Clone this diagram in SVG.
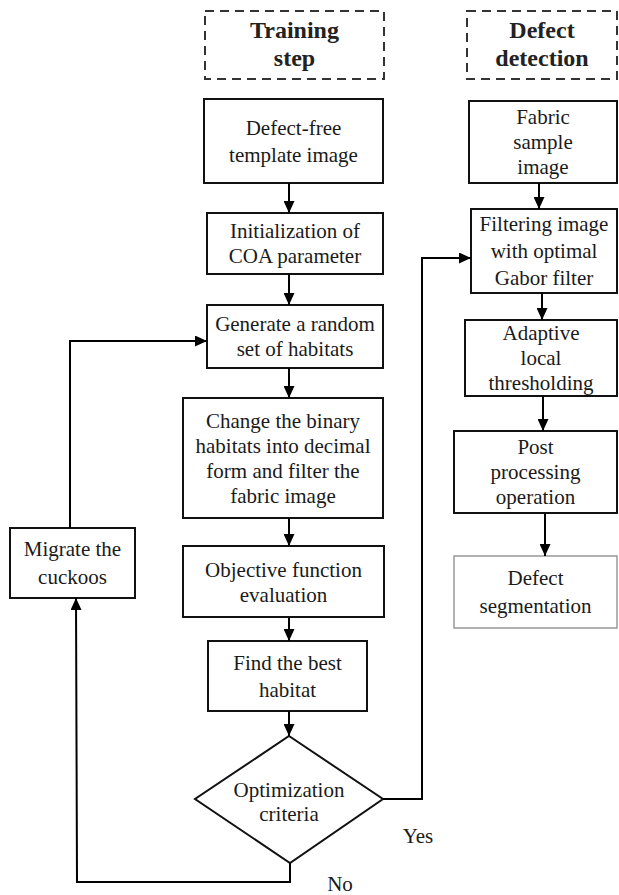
<svg xmlns="http://www.w3.org/2000/svg" width="619" height="895" viewBox="0 0 619 895">
<defs>
<marker id="ah" markerUnits="userSpaceOnUse" markerWidth="12" markerHeight="11" refX="12" refY="5.5" orient="auto">
<path d="M0,0 L12,5.5 L0,11 z" fill="#000"/>
</marker>
<style>
.box{fill:#fff;stroke:#111;stroke-width:2}
.lite{fill:#fff;stroke:#999;stroke-width:1.5}
.hdr{fill:none;stroke:#333;stroke-width:2;stroke-dasharray:9 6}
.t{font-family:"Liberation Serif","Times New Roman",serif;font-size:21px;fill:#1a1a1a;text-anchor:middle}
.h{font-family:"Liberation Serif","Times New Roman",serif;font-size:24px;font-weight:bold;fill:#222;text-anchor:middle}
.c{fill:none;stroke:#000;stroke-width:2}
</style>
</defs>
<rect width="619" height="895" fill="#fff"/>

<g id="hdr-training">
<rect class="hdr" x="205" y="11" width="179" height="68"/>
<text class="h" x="294.5" y="38">Training</text>
<text class="h" x="294.5" y="66">step</text>
</g>
<g id="hdr-defect">
<rect class="hdr" x="467" y="11" width="150" height="68"/>
<text class="h" x="542" y="38">Defect</text>
<text class="h" x="542" y="66">detection</text>
</g>

<g id="n-template">
<rect class="box" x="204" y="99" width="179" height="84"/>
<text class="t" x="293.5" y="135">Defect-free</text>
<text class="t" x="293.5" y="162">template image</text>
</g>
<g id="n-init">
<rect class="box" x="207" y="213" width="176" height="61"/>
<text class="t" x="295" y="238">Initialization of</text>
<text class="t" x="295" y="263">COA parameter</text>
</g>
<g id="n-generate">
<rect class="box" x="207" y="305" width="176" height="63"/>
<text class="t" x="295" y="331">Generate a random</text>
<text class="t" x="295" y="356">set of habitats</text>
</g>
<g id="n-change">
<rect class="box" x="183" y="398" width="200" height="120"/>
<text class="t" x="283" y="428">Change the binary</text>
<text class="t" x="283" y="453">habitats into decimal</text>
<text class="t" x="283" y="478">form and filter the</text>
<text class="t" x="283" y="503">fabric image</text>
</g>
<g id="n-objective">
<rect class="box" x="183" y="546" width="201" height="71"/>
<text class="t" x="283.5" y="577">Objective function</text>
<text class="t" x="283.5" y="602">evaluation</text>
</g>
<g id="n-best">
<rect class="box" x="208" y="641" width="159" height="70"/>
<text class="t" x="287.5" y="670">Find the best</text>
<text class="t" x="287.5" y="697">habitat</text>
</g>
<g id="n-criteria">
<polygon class="box" points="289,736 383,799 290,863 195,799"/>
<text class="t" x="289" y="797">Optimization</text>
<text class="t" x="289" y="821">criteria</text>
</g>
<g id="n-migrate">
<rect class="box" x="10" y="528" width="125" height="70"/>
<text class="t" x="72.5" y="556">Migrate the</text>
<text class="t" x="72.5" y="584">cuckoos</text>
</g>

<g id="n-sample">
<rect class="box" x="469" y="101" width="148" height="82"/>
<text class="t" x="543" y="124">Fabric</text>
<text class="t" x="543" y="149">sample</text>
<text class="t" x="543" y="174">image</text>
</g>
<g id="n-filter">
<rect class="box" x="471" y="209" width="146" height="84"/>
<text class="t" x="544" y="231">Filtering image</text>
<text class="t" x="544" y="258">with optimal</text>
<text class="t" x="544" y="285">Gabor filter</text>
</g>
<g id="n-adaptive">
<rect class="box" x="465" y="320" width="152" height="76"/>
<text class="t" x="541" y="340">Adaptive</text>
<text class="t" x="541" y="365">local</text>
<text class="t" x="541" y="390">thresholding</text>
</g>
<g id="n-post">
<rect class="box" x="454" y="431" width="163" height="82"/>
<text class="t" x="535.5" y="454">Post</text>
<text class="t" x="535.5" y="479">processing</text>
<text class="t" x="535.5" y="504">operation</text>
</g>
<g id="n-segmentation">
<rect class="lite" x="454" y="556" width="163" height="72"/>
<text class="t" x="535.5" y="585">Defect</text>
<text class="t" x="535.5" y="613">segmentation</text>
</g>

<g id="connectors">
<line class="c" x1="289" y1="183" x2="289" y2="213" marker-end="url(#ah)"/>
<line class="c" x1="289" y1="274" x2="289" y2="305" marker-end="url(#ah)"/>
<line class="c" x1="289" y1="368" x2="289" y2="398" marker-end="url(#ah)"/>
<line class="c" x1="289" y1="518" x2="289" y2="546" marker-end="url(#ah)"/>
<line class="c" x1="289" y1="617" x2="289" y2="641" marker-end="url(#ah)"/>
<line class="c" x1="289" y1="711" x2="289" y2="736" marker-end="url(#ah)"/>
<polyline class="c" points="290,863 290,882 77,882 76,598" marker-end="url(#ah)"/>
<polyline class="c" points="70,528 70,341 207,341" marker-end="url(#ah)"/>
<polyline class="c" points="383,799 422,799 422,258 471,258" marker-end="url(#ah)"/>
<line class="c" x1="539" y1="183" x2="539" y2="209" marker-end="url(#ah)"/>
<line class="c" x1="542" y1="293" x2="542" y2="320" marker-end="url(#ah)"/>
<line class="c" x1="543" y1="396" x2="543" y2="431" marker-end="url(#ah)"/>
<line class="c" x1="545" y1="513" x2="545" y2="556" marker-end="url(#ah)"/>
<text class="t" x="418" y="843">Yes</text>
<text class="t" x="340" y="891">No</text>
</g>
</svg>
